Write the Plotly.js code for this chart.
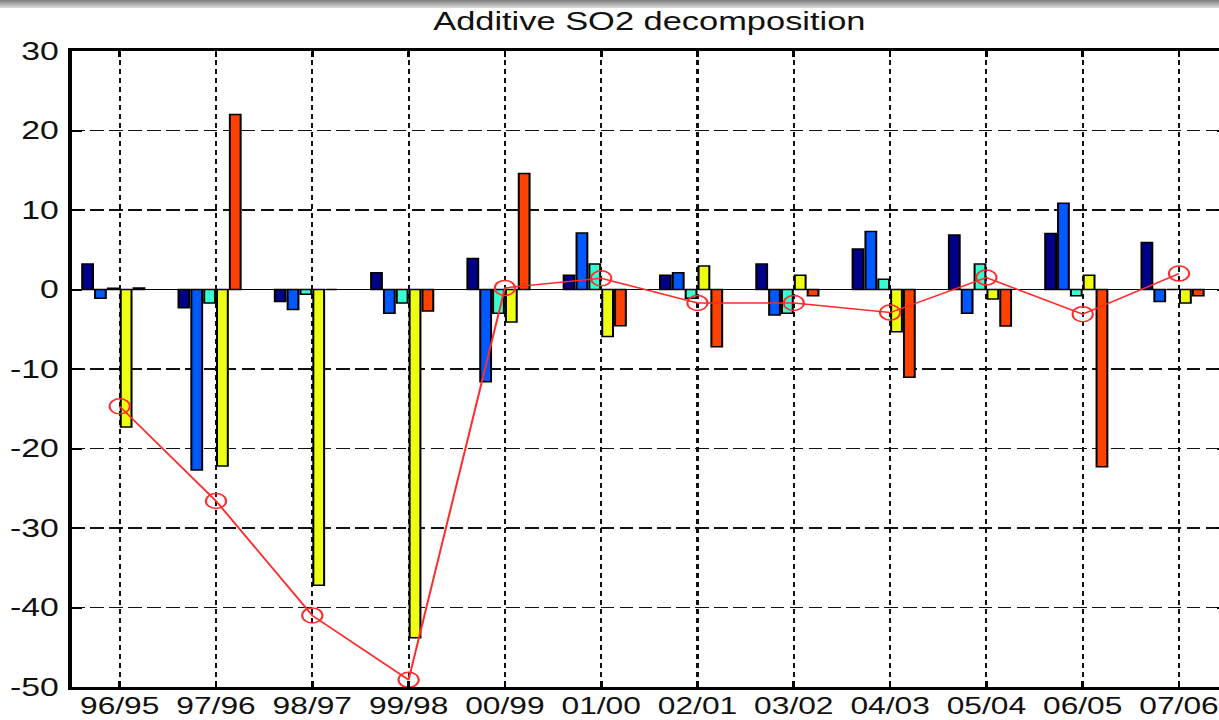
<!DOCTYPE html>
<html>
<head>
<meta charset="utf-8">
<script src="https://cdn.plot.ly/plotly-3.0.1.min.js"></script>
<style>
  html, body { margin: 0; padding: 0; width: 1219px; height: 720px; overflow: hidden; background: #fff; }
  #plot { position: absolute; left: 0; top: 0; transform-origin: 0 0; transform: scaleX(1.35); }
  #topbar { position: absolute; left: 0; top: 0; width: 1219px; height: 8px;
            background: linear-gradient(#7d7d7d, #dcdcdc); z-index: 5; }
</style>
</head>
<body>
<div id="plot"></div>
<div id="topbar"></div>
<script>
// ---- data ----
const categories = ['96/95','97/96','98/97','99/98','00/99','01/00','02/01','03/02','04/03','05/04','06/05','07/06'];
const effect1 = [3.2, -2.3, -1.5, 2.1, 3.9, 1.8, 1.8, 3.2, 5.1, 6.85, 7.05, 5.9];        // dark blue
const effect2 = [-1.1, -22.7, -2.5, -3.0, -11.6, 7.1, 2.1, -3.2, 7.3, -3.0, 10.85, -1.5]; // blue
const effect3 = [0.15, -1.7, -0.6, -1.7, -3.0, 3.2, -1.1, -3.0, 1.3, 3.2, -0.8, 0];      // cyan
const effect4 = [-17.3, -22.2, -37.2, -43.8, -4.1, -5.9, 2.95, 1.8, -5.3, -1.2, 1.8, -1.7]; // yellow
const effect5 = [0.2, 22.0, 0, -2.7, 14.6, -4.55, -7.2, -0.8, -11.05, -4.6, -22.3, -0.8];   // orange
const totalChange = [-14.7, -26.6, -41.0, -49.1, 0.2, 1.4, -1.7, -1.7, -2.9, 1.5, -3.1, 2.0];
const yTickVals = [-50, -40, -30, -20, -10, 0, 10, 20, 30];
const yTickText = ['-50', '-40', '-30', '-20', '-10', '0', '10', '20', '30'];

// ---- styling ----
const S = 1.35;                       // horizontal stretch of the reference picture
const seriesList = [effect1, effect2, effect3, effect4, effect5];
const colors = ['#000088', '#0058ff', '#36ffd2', '#eeff12', '#ff4200'];
const slot = 0.8 / 6;                 // MATLAB-style group of 6 slots, 5 drawn
const barW = 0.112;

const traces = seriesList.map((vals, i) => ({
  type: 'bar',
  x: categories,
  y: vals,
  name: 'Component ' + (i + 1),
  width: barW,
  offset: -0.4 + i * slot + (slot - barW) / 2,
  marker: { color: colors[i], line: { color: '#000', width: 1.5 } },
  hoverinfo: 'x+y'
}));

traces.push({
  type: 'scatter',
  mode: 'lines+markers',
  x: categories,
  y: totalChange,
  name: 'Total',
  line: { color: '#ff2a2a', width: 1.5 },
  marker: { symbol: 'circle-open', size: 15, color: '#ff2a2a', line: { width: 1.5, color: '#ff2a2a' } }
});

const fontFam = '"Liberation Sans", Arial, Helvetica, sans-serif';
const W = 920;

const layout = {
  width: W,
  height: 720,
  margin: { l: 53.3, r: W - 1227 / S, t: 51, b: 33, pad: 0 },
  paper_bgcolor: '#fff',
  plot_bgcolor: '#fff',
  showlegend: false,
  barmode: 'overlay',
  title: {
    text: 'Additive SO2 decomposition',
    font: { family: fontFam, size: 25.5, color: '#111' },
    x: 0.5, xref: 'paper',
    y: 1 - 21 / 720, yref: 'container', yanchor: 'middle'
  },
  xaxis: {
    type: 'category',
    range: [-0.5, 11.5],
    showline: true, linecolor: '#000', linewidth: 3, mirror: 'ticks',
    ticks: 'inside', ticklen: 6, tickwidth: 2, tickcolor: '#000',
    showgrid: true, gridcolor: '#111', gridwidth: 1.5, griddash: '5px,4px',
    tickfont: { family: fontFam, size: 23.5, color: '#111' },
    ticklabelstandoff: -4,
    zeroline: false
  },
  yaxis: {
    range: [-50, 30],
    tickmode: 'array', tickvals: yTickVals, ticktext: yTickText,
    showline: true, linecolor: '#000', linewidth: 2.5, mirror: 'ticks',
    ticks: 'inside', ticklen: 7.5, tickwidth: 2, tickcolor: '#000',
    showgrid: true, gridcolor: '#111', gridwidth: 1.6, griddash: '10px,4px',
    zeroline: true, zerolinecolor: '#000', zerolinewidth: 1.5,
    tickfont: { family: fontFam, size: 25, color: '#111' },
    ticklabelstandoff: 2
  }
};

Plotly.newPlot('plot', traces, layout, { displayModeBar: false, staticPlot: true });
</script>
</body>
</html>
